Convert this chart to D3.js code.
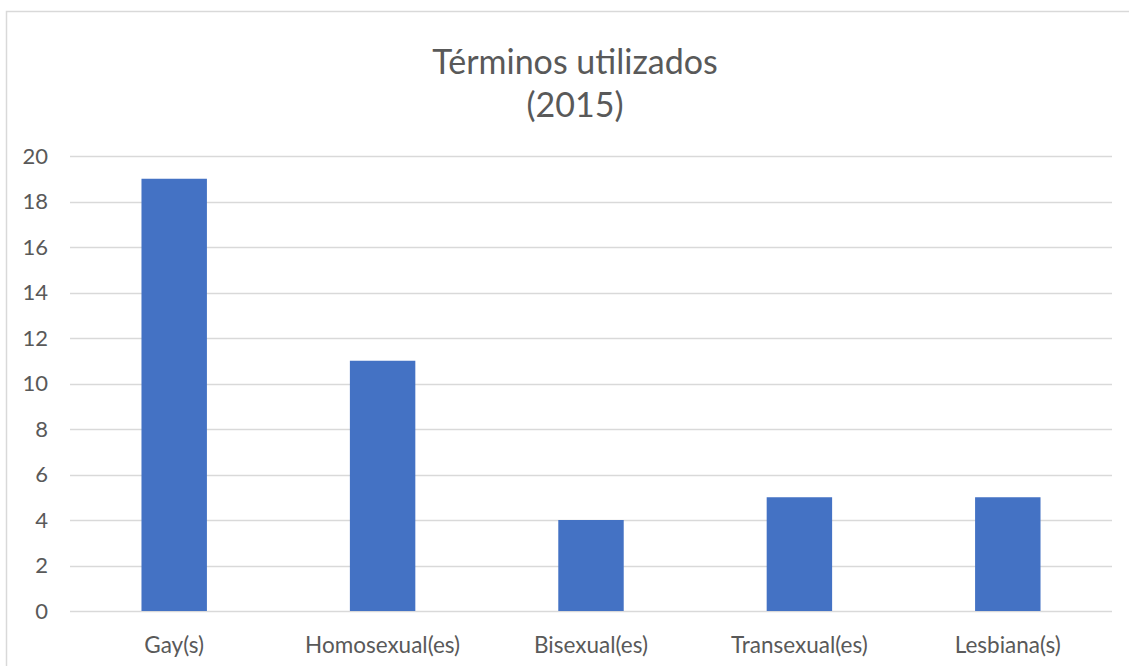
<!DOCTYPE html>
<html>
<head>
<meta charset="utf-8">
<script src="https://cdn.jsdelivr.net/npm/d3@7"></script>
<style>
  body { margin: 0; background: #fff; }
  svg text { font-family: Lato, "Open Sans", sans-serif; fill: #595959; }
</style>
</head>
<body>
<svg id="chart" width="1129" height="666"></svg>
<script>
// data
const categories = ['Gay(s)', 'Homosexual(es)', 'Bisexual(es)', 'Transexual(es)', 'Lesbiana(s)']
const values = [19, 11, 4, 5, 5]
const yTicks = [0, 2, 4, 6, 8, 10, 12, 14, 16, 18, 20]
const titleLines = ['Términos utilizados', '(2015)']

const svg = d3.select('#chart')

// outer chart frame (runs off the right/bottom edge like the source)
svg.append('rect')
  .attr('x', 6.5).attr('y', 11.5)
  .attr('width', 1140).attr('height', 700)
  .attr('fill', 'none').attr('stroke', '#d9d9d9').attr('stroke-width', 1.5)

const plot = { left: 70, right: 1112, top: 156, bottom: 611 }

const x = d3.scaleBand()
  .domain(categories)
  .range([plot.left, plot.right])
  .paddingInner(0.686).paddingOuter(0.343)

const y = d3.scaleLinear().domain([0, 20]).range([plot.bottom, plot.top])

// gridlines
svg.append('g')
  .selectAll('line')
  .data(yTicks)
  .join('line')
  .attr('x1', plot.left).attr('x2', plot.right)
  .attr('y1', d => Math.round(y(d)) + 0.5).attr('y2', d => Math.round(y(d)) + 0.5)
  .attr('stroke', '#d9d9d9').attr('stroke-width', 1.3)

// y labels
svg.append('g')
  .selectAll('text')
  .data(yTicks)
  .join('text')
  .attr('x', 48)
  .attr('y', d => y(d))
  .attr('dy', '0.36em')
  .attr('text-anchor', 'end')
  .attr('font-size', 22)
  .text(d => d)

// bars
svg.append('g')
  .selectAll('rect')
  .data(values)
  .join('rect')
  .attr('x', (d, i) => x(categories[i]))
  .attr('width', x.bandwidth())
  .attr('y', d => y(d))
  .attr('height', d => y(0) - y(d))
  .attr('fill', '#4472c4')

// category labels
svg.append('g')
  .selectAll('text')
  .data(categories)
  .join('text')
  .attr('x', d => x(d) + x.bandwidth() / 2)
  .attr('y', 653)
  .attr('text-anchor', 'middle')
  .attr('font-size', 22.5)
  .text(d => d)

// title
svg.append('g')
  .selectAll('text')
  .data(titleLines)
  .join('text')
  .attr('x', 575)
  .attr('y', (d, i) => 74 + i * 43)
  .attr('text-anchor', 'middle')
  .attr('font-size', 34)
  .text(d => d)
</script>
</body>
</html>
